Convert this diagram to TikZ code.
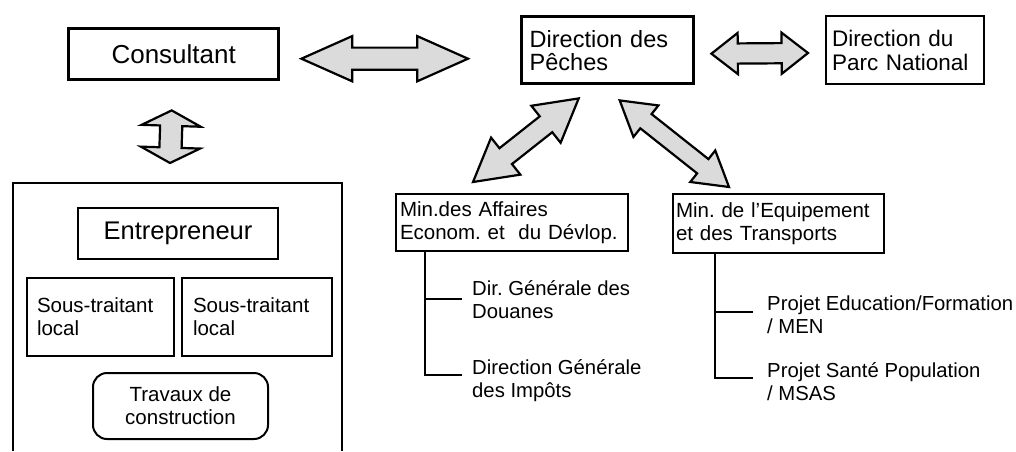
\documentclass[tikz,border=0pt]{standalone}
\usepackage{fontspec}
\setmainfont{Liberation Sans}
\usetikzlibrary{shapes.arrows,positioning,calc}
\frenchspacing

% fat grey double arrow between two points
\newcommand{\fatarrow}[4][]{%
  \path let \p1=(#3), \p2=(#4),
    \n1={veclen(\x2-\x1,\y2-\y1)}, \n2={atan2(\y2-\y1,\x2-\x1)} in
    node[fatarrow,#1,minimum height=\n1,rotate=\n2] (#2) at ($(\p1)!0.5!(\p2)$) {};%
}

\begin{document}
\begin{tikzpicture}[
    x=1pt, y=-1pt,
    box/.style={draw, line width=2pt, inner ysep=0pt, font=\fontsize{20.5}{23}\selectfont},
    thickbox/.style={box, line width=3.4pt},
    leaf/.style={align=left, inner sep=0pt, font=\fontsize{20.3}{23}\selectfont},
    fatarrow/.style={shape=double arrow, draw, line width=2.2pt, fill=gray!28, inner xsep=0pt, double arrow head indent=0pt},
    tree/.style={line width=2.6pt},
    frame/.style={line width=2.6pt}
]
    \useasboundingbox (0,0) rectangle (1016,451);

    % top row
    \node[thickbox, anchor=north west, minimum width=210pt, minimum height=51pt, font=\fontsize{26}{28}\selectfont] (cons) at (67,27) {Consultant};
    \node[thickbox, anchor=north west, minimum height=67pt, align=left, text width=156pt, inner xsep=8pt, font=\fontsize{23.5}{23}\selectfont] (peches) at (520,15) {Direction des\\Pêches};
    \node[box, anchor=north west, minimum height=68pt, align=left, text width=146pt, inner xsep=6pt, font=\fontsize{22.5}{24}\selectfont] (parc) at (825,15) {Direction du\\Parc National};

    % ministries
    \node[box, anchor=north west, minimum height=57pt, align=left, text width=224pt, inner xsep=4pt] (affaires) at (395,193) {Min.des Affaires\\Econom. et~ du Dévlop.};
    \node[box, anchor=north west, minimum height=59pt, align=left, text width=205pt, inner xsep=3pt] (equip) at (672,193) {Min. de l'Equipement\\et des Transports};

    % contractor side
    \draw[frame] (13,451) |- coordinate[pos=0.75] (lottop) (342,183) -- (342,451);
    \node[box, anchor=north west, minimum width=200pt, minimum height=51pt, font=\fontsize{25.5}{27}\selectfont] (entre) at (77,207) {Entrepreneur};
    \node[box, anchor=north west, minimum height=78pt, align=left, text width=127pt, inner xsep=10pt] (sous1) at (26,277) {Sous-traitant\\local};
    \node[box, anchor=north west, minimum height=78pt, align=left, text width=128pt, inner xsep=11pt] (sous2) at (181,277) {Sous-traitant\\local};
    \node[box, anchor=north west, minimum width=175pt, minimum height=66pt, align=center, rounded corners=14pt] (travaux) at (92,372) {Travaux de\\construction};

    % services under the ministries
    \node[leaf, anchor=base west] (douanes) at (472,318) {Dir. Générale des\\Douanes};
    \node[leaf, anchor=base west] (impots) at (472,397) {Direction Générale\\des Impôts};
    \node[leaf, anchor=base west] (educ) at (767,333) {Projet Education/Formation\\/ MEN};
    \node[leaf, anchor=base west] (sante) at (767,400) {Projet Santé Population\\/ MSAS};

    \coordinate (ta) at ([xshift=30pt]affaires.south west);
    \coordinate (te) at ([xshift=43pt]equip.south west);
    \draw[tree] (ta) |- ([xshift=-10pt,yshift=19pt]douanes.base west);
    \draw[tree] (ta) |- ([xshift=-10pt,yshift=22pt]impots.base west);
    \draw[tree] (te) |- ([xshift=-14pt,yshift=21pt]educ.base west);
    \draw[tree] (te) |- ([xshift=-14pt,yshift=22pt]sante.base west);

    % fat arrows
    \fatarrow[minimum width=43pt, inner ysep=10pt, double arrow head extend=11.5pt, double arrow tip angle=48]{a1}{[xshift=21pt,yshift=-4.5pt]cons.east}{[xshift=-52pt,yshift=-8.5pt]peches.west}
    \fatarrow[minimum width=39pt, inner ysep=9pt, double arrow head extend=10.5pt, double arrow tip angle=76]{a2}{[xshift=16pt,yshift=-3.5pt]peches.east}{[xshift=-17pt,yshift=-3pt]parc.west}
    \fatarrow[minimum width=57pt, inner ysep=10pt, double arrow head extend=18.5pt, double arrow tip angle=125]{a3}{[xshift=-2pt,yshift=-29pt]cons.south}{[xshift=-7.5pt,yshift=20pt]lottop}
    \fatarrow[minimum width=45pt, inner ysep=9pt, double arrow head extend=13.5pt, double arrow tip angle=59]{a4}{[xshift=-39pt,yshift=11pt]affaires.north}{[xshift=-29pt,yshift=-13pt]peches.south}
    \fatarrow[minimum width=38pt, inner ysep=8pt, double arrow head extend=11pt, double arrow tip angle=62]{a5}{[xshift=12pt,yshift=-15pt]peches.south}{[xshift=-49.5pt,yshift=6pt]equip.north}
\end{tikzpicture}
\end{document}
